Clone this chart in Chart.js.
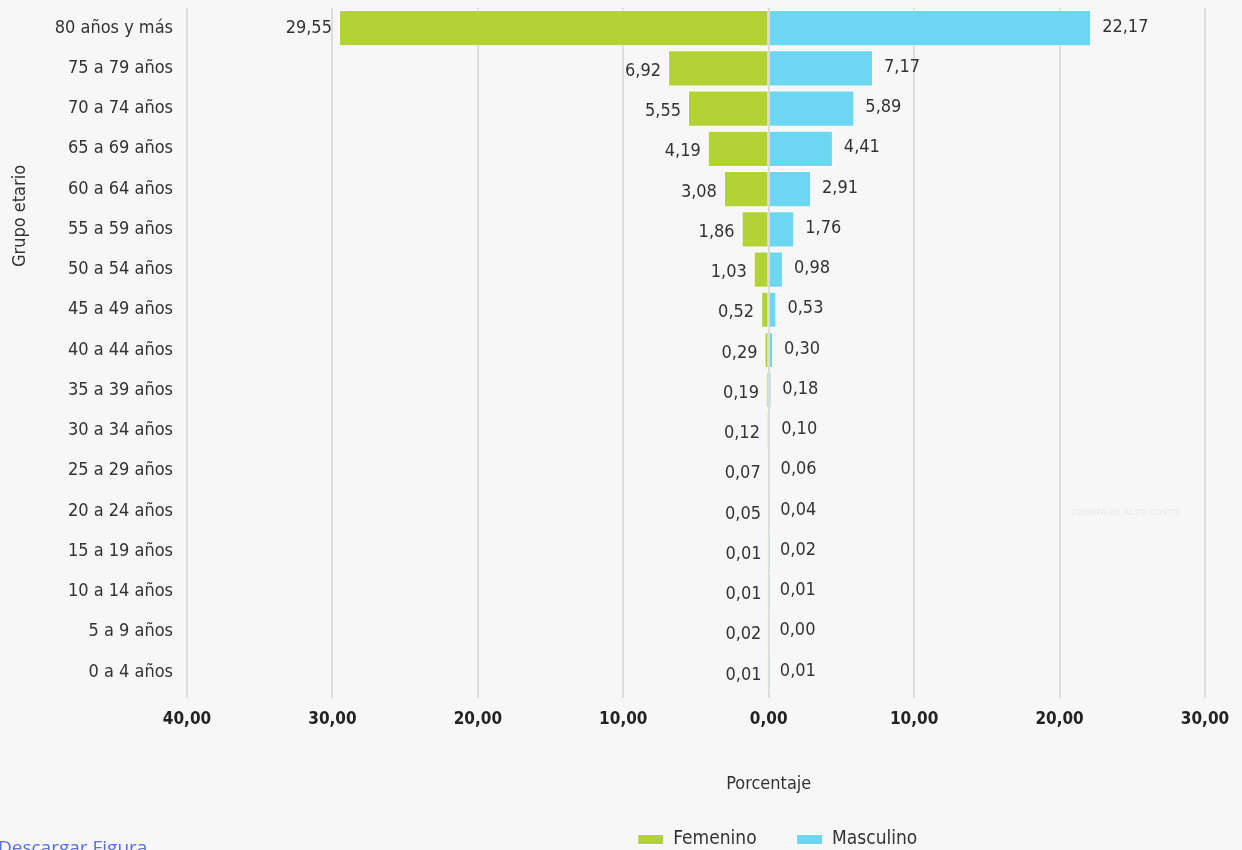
<!DOCTYPE html>
<html>
<head>
<meta charset="utf-8">
<script src="https://cdn.jsdelivr.net/npm/chart.js@4"></script>
<style>
  html, body { margin: 0; padding: 0; background: #f7f7f7; overflow: hidden; }
  #wrap { position: relative; width: 1242px; height: 859px; }
  #link { position: absolute; left: -2px; top: 834px; font: 19px 'Open Sans', sans-serif; color: #5b6ee1; }
  #mark { position: absolute; left: 1040px; top: 505px; width: 170px; text-align: center; color: #ececec; font: bold 9px 'Open Sans', sans-serif; }
</style>
</head>
<body>
<div id="wrap">
  <canvas id="piramide" width="1242" height="859"></canvas>
  <div id="mark">CUENTA DE ALTO COSTO</div>
  <div id="link">Descargar Figura</div>
</div>
<script>
var grupos = ['80 años y más', '75 a 79 años', '70 a 74 años', '65 a 69 años', '60 a 64 años',
  '55 a 59 años', '50 a 54 años', '45 a 49 años', '40 a 44 años', '35 a 39 años',
  '30 a 34 años', '25 a 29 años', '20 a 24 años', '15 a 19 años', '10 a 14 años',
  '5 a 9 años', '0 a 4 años'];
var femenino = [29.55, 6.92, 5.55, 4.19, 3.08, 1.86, 1.03, 0.52, 0.29, 0.19, 0.12, 0.07, 0.05, 0.01, 0.01, 0.02, 0.01];
var masculino = [22.17, 7.17, 5.89, 4.41, 2.91, 1.76, 0.98, 0.53, 0.30, 0.18, 0.10, 0.06, 0.04, 0.02, 0.01, 0.00, 0.01];

var fuente = "'Liberation Sans Narrow', 'DejaVu Sans Condensed', sans-serif";

function coma(v) {
  return Math.abs(v).toFixed(2).replace('.', ',');
}

// etiquetas de valor, titulos de ejes
var etiquetas = {
  id: 'etiquetas',
  afterLayout: function(chart) {
    // la leyenda va corrida a la derecha como en la figura original
    chart.legend.left += 175;
    chart.legend.right += 175;
  },
  afterDatasetsDraw: function(chart) {
    var c = chart.ctx;
    c.save();
    c.font = '18px ' + fuente;
    c.fillStyle = '#333';
    c.textBaseline = 'middle';
    chart.data.datasets.forEach(function(ds, i) {
      chart.getDatasetMeta(i).data.forEach(function(bar, j) {
        var v = ds.data[j];
        if (i == 0) {
          c.textAlign = 'right';
          c.fillText(coma(v), bar.x - 7, bar.y + (j == 0 ? 0 : 3));
        } else {
          c.textAlign = 'left';
          c.fillText(coma(v), bar.x + 11, bar.y - 1);
        }
      });
    });
    c.textAlign = 'center';
    c.fillText('Porcentaje', chart.scales.x.getPixelForValue(0), 784);
    c.translate(20, 216);
    c.rotate(-Math.PI / 2);
    c.fillText('Grupo etario', 0, 0);
    c.restore();
  }
};

new Chart(document.getElementById('piramide'), {
  type: 'bar',
  data: {
    labels: grupos,
    datasets: [{
      label: 'Femenino',
      data: femenino.map(function(v) { return -v; }),
      backgroundColor: '#b3d334',
      borderColor: '#ffffff',
      borderWidth: 1
    }, {
      label: 'Masculino',
      data: masculino,
      backgroundColor: '#6dd6f0',
      borderColor: '#ffffff',
      borderWidth: 1
    }]
  },
  options: {
    indexAxis: 'y',
    responsive: false,
    animation: false,
    devicePixelRatio: 1,
    barPercentage: 0.9,
    categoryPercentage: 1,
    layout: { padding: { top: 0, right: 37, left: 0, bottom: 0 } },
    scales: {
      x: {
        stacked: true,
        min: -40,
        max: 30,
        afterFit: function(s) { s.height = 98; },
        ticks: {
          stepSize: 10,
          padding: 11,
          color: '#222',
          font: { family: fuente, size: 17, weight: 'bold' },
          callback: function(v) { return coma(v); }
        },
        grid: { color: '#dcdcdc', lineWidth: 2, tickLength: 6 },
        border: { display: false }
      },
      y: {
        stacked: true,
        afterFit: function(s) { s.width = 187; s.paddingTop = 8; s.paddingBottom = 0; },
        ticks: {
          padding: 0,
          color: '#333',
          font: { family: fuente, size: 18 }
        },
        grid: { display: false, tickLength: 14 },
        border: { display: false }
      }
    },
    plugins: {
      legend: {
        position: 'bottom',
        labels: {
          boxWidth: 26,
          boxHeight: 10,
          padding: 40,
          color: '#333',
          font: { family: fuente, size: 19 }
        }
      },
      tooltip: { enabled: false }
    }
  },
  plugins: [etiquetas]
});
</script>
</body>
</html>
